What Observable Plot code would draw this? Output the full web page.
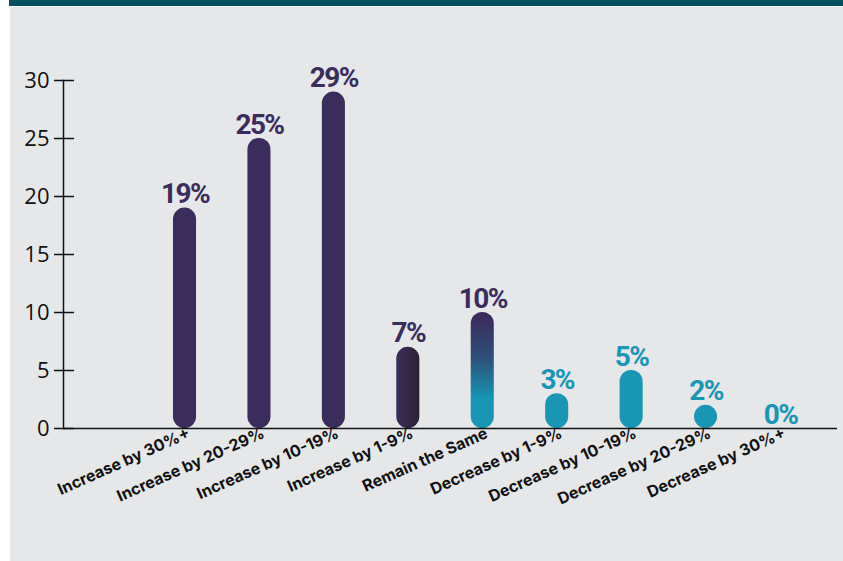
<!DOCTYPE html>
<html>
<head>
<meta charset="utf-8">
<script src="https://cdn.jsdelivr.net/npm/d3@7"></script>
<script src="https://cdn.jsdelivr.net/npm/@observablehq/plot@0.6"></script>
<style>
  html, body { margin: 0; padding: 0; background: #ffffff; }
  #page { position: relative; width: 843px; height: 561px; overflow: hidden; }
  #panel { position: absolute; left: 10px; top: 7px; right: 0; bottom: 0; background: #e6e7e9; }
  #band { position: absolute; left: 9px; top: 0; right: 0; height: 6px; background: #03505f; }
  #chart { position: absolute; left: 0; top: 0; }
  #chart g[aria-label="text"] text { letter-spacing: -1.6px; }
</style>
</head>
<body>
<div id="page">
  <div id="panel"></div>
  <div id="band"></div>
  <div id="chart"></div>
</div>
<script>
const categories = [
  "Increase by 30%+",
  "Increase by 20-29%",
  "Increase by 10-19%",
  "Increase by 1-9%",
  "Remain the Same",
  "Decrease by 1-9%",
  "Decrease by 10-19%",
  "Decrease by 20-29%",
  "Decrease by 30%+"
];
const values = [19, 25, 29, 7, 10, 3, 5, 2, 0];
const yTicks = [0, 5, 10, 15, 20, 25, 30];

const PURPLE = "#3a2d5c";
const TEAL = "#1896b4";
const INK = "#111111";

const data = categories.map((category, i) => ({category, value: values[i], i}));
const solidPurple = data.filter(d => d.i < 3);
const incSmall = data.filter(d => d.i === 3);
const same = data.filter(d => d.i === 4);
const decrease = data.filter(d => d.i >= 5);
const purpleLabels = data.filter(d => d.i < 5);
const tealLabels = data.filter(d => d.i >= 5);

const labelFont = "Roboto, 'Liberation Sans Narrow', sans-serif";
const tickFont = "Inter, Lato, sans-serif";
const numFont = "'Open Sans', 'Noto Sans', sans-serif";

const barOpts = {x: "category", y: "value", rx: 11.5};
const textOpts = {
  x: "category", y: "value", text: d => d.value + "%", dy: -5, lineAnchor: "bottom",
  fontFamily: labelFont, fontWeight: "bold", fontSize: 28
};

const chart = Plot.plot({
  width: 843,
  height: 561,
  marginLeft: 63,
  marginRight: 6,
  marginTop: 80,
  marginBottom: 133,
  style: {background: "transparent", overflow: "visible"},
  x: {domain: categories, range: [147.3, 817.2], paddingInner: 0.69, paddingOuter: 0.345, round: false},
  y: {domain: [0, 30]},
  marks: [
    Plot.barY(solidPurple, {...barOpts, fill: PURPLE}),
    Plot.barY(incSmall, {...barOpts, fill: "url(#gradH)"}),
    Plot.barY(same, {...barOpts, fill: "url(#gradV)"}),
    Plot.barY(decrease.filter(d => d.value > 0), {...barOpts, fill: TEAL}),
    Plot.text(purpleLabels, {...textOpts, fill: PURPLE}),
    Plot.text(tealLabels, {...textOpts, fill: TEAL}),
    Plot.axisY(yTicks, {tickSize: 20, dx: 11, fill: "none", stroke: INK, strokeWidth: 1.5, label: null}),
    Plot.axisY(yTicks, {tickSize: 0, tickPadding: 14, fontSize: 22, fontFamily: numFont, fill: INK, label: null}),
    Plot.axisX({tickSize: 0, tickRotate: -24, tickPadding: 4, dx: 4, fontSize: 16, fontWeight: "bold", fontFamily: tickFont, fill: INK, label: null}),
    Plot.frame({anchor: "left", stroke: INK, strokeWidth: 1.5}),
    Plot.ruleY([0], {stroke: INK, strokeWidth: 1.5})
  ]
});

const defs = d3.select(chart).insert("defs", ":first-child");
const gH = defs.append("linearGradient").attr("id", "gradH").attr("x1", 0).attr("x2", 1).attr("y1", 0).attr("y2", 0);
gH.append("stop").attr("offset", "0%").attr("stop-color", "#3a2d5c");
gH.append("stop").attr("offset", "100%").attr("stop-color", "#2a2233");
const gV = defs.append("linearGradient").attr("id", "gradV").attr("x1", 0).attr("x2", 0).attr("y1", 0).attr("y2", 1);
gV.append("stop").attr("offset", "5%").attr("stop-color", "#3a2d5c");
gV.append("stop").attr("offset", "40%").attr("stop-color", "#2d5079");
gV.append("stop").attr("offset", "75%").attr("stop-color", "#1896b4");
gV.append("stop").attr("offset", "100%").attr("stop-color", "#1896b4");

document.getElementById("chart").appendChild(chart);
</script>
</body>
</html>
